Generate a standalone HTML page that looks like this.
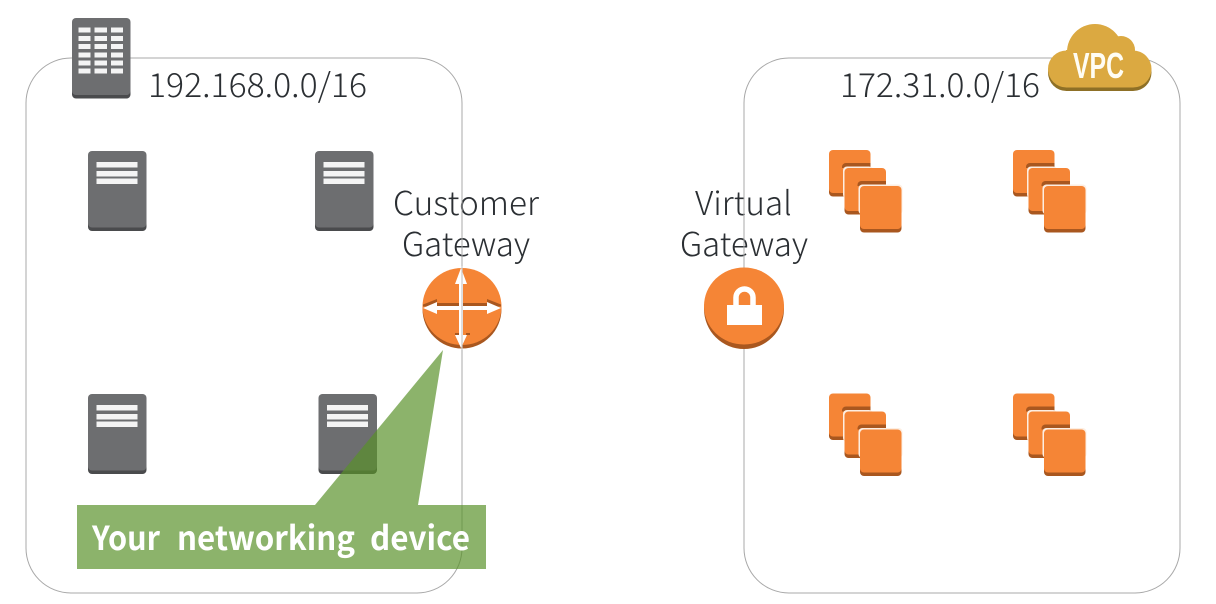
<!DOCTYPE html>
<html><head><meta charset="utf-8"><style>
html,body{margin:0;padding:0;background:#fff;width:1216px;height:604px;overflow:hidden}
svg{display:block}
.t{font-family:"Noto Sans CJK KR","Liberation Sans",sans-serif;font-weight:300;font-size:33px;fill:#2b2f33}
.g{font-family:"Noto Sans CJK KR","Liberation Sans",sans-serif;font-weight:700;font-size:33px;fill:#fff}
</style></head><body>
<svg width="1216" height="604" viewBox="0 0 1216 604" xmlns="http://www.w3.org/2000/svg">
<defs>
<g id="srv">
<rect x="0" y="2" width="58.5" height="78" rx="4" fill="#4a4b4d"/>
<rect x="0" y="0" width="58.5" height="76.500" rx="4" fill="#6d6e70"/>
<rect x="8.500" y="11" width="41" height="5.500" fill="#f4f4f4"/>
<rect x="8.500" y="20" width="41" height="5.500" fill="#f4f4f4"/>
<rect x="8.500" y="27.500" width="41" height="5.500" fill="#f4f4f4"/>
</g>
<g id="box">
<rect x="0" y="3" width="41.500" height="43.500" rx="4" fill="#a9571f"/>
<rect x="0" y="0" width="41.500" height="43" rx="4" fill="#f58536"/>
</g>
<g id="stack">
<use href="#box" x="0" y="0"/>
<path d="M13 18v-1a4 4 0 0 1 4-4h24.500v5z" fill="#a9571f"/>
<rect x="14" y="16.500" width="30" height="32" rx="4" fill="#fdeee2"/>
<use href="#box" x="15.500" y="18"/>
<path d="M28.500 36v-1a4 4 0 0 1 4-4h24.500v5z" fill="#a9571f"/>
<rect x="29.500" y="34.500" width="44" height="30" rx="4" fill="#fdeee2"/>
<use href="#box" x="31" y="36"/>
</g>
<g id="cloud">
<circle cx="1095" cy="52" r="28"/>
<circle cx="1121" cy="50" r="14"/>
<circle cx="1066.500" cy="69" r="18.500"/>
<circle cx="1133" cy="69" r="18.500"/>
<rect x="1066" y="50" width="67" height="37.500"/>
</g>
</defs>

<text class="t" x="148" y="97" textLength="219" lengthAdjust="spacingAndGlyphs">192.168.0.0/16</text>
<text class="t" x="840" y="97" textLength="200" lengthAdjust="spacingAndGlyphs">172.31.0.0/16</text>
<text class="t" x="393" y="215" textLength="146" lengthAdjust="spacingAndGlyphs">Customer</text>
<text class="t" x="402" y="256" textLength="128" lengthAdjust="spacingAndGlyphs">Gateway</text>
<text class="t" x="695" y="215" textLength="97" lengthAdjust="spacingAndGlyphs">Virtual</text>
<text class="t" x="680" y="256" textLength="128" lengthAdjust="spacingAndGlyphs">Gateway</text>

<rect x="26" y="58" width="436" height="535" rx="45" fill="none" stroke="#a8a8a8" stroke-width="1"/>
<rect x="744" y="58" width="436" height="535" rx="45" fill="none" stroke="#a8a8a8" stroke-width="1"/>

<rect x="72" y="20" width="58.500" height="78.500" rx="4" fill="#4a4b4d"/>
<rect x="72" y="18" width="58.500" height="77" rx="4" fill="#6d6e70"/>
<g fill="#f4f4f4">
<rect x="78.500" y="27.500" width="12" height="5"/><rect x="94.500" y="27.500" width="12.500" height="5"/><rect x="111" y="27.500" width="12" height="5"/>
<rect x="78.500" y="36" width="12" height="5"/><rect x="94.500" y="36" width="12.500" height="5"/><rect x="111" y="36" width="12" height="5"/>
<rect x="78.500" y="44" width="12" height="5"/><rect x="94.500" y="44" width="12.500" height="5"/><rect x="111" y="44" width="12" height="5"/>
<rect x="78.500" y="52.500" width="12" height="5"/><rect x="94.500" y="52.500" width="12.500" height="5"/><rect x="111" y="52.500" width="12" height="5"/>
<rect x="78.500" y="60.500" width="12" height="5"/><rect x="94.500" y="60.500" width="12.500" height="5"/><rect x="111" y="60.500" width="12" height="5"/>
<rect x="78.500" y="68.500" width="12" height="5"/><rect x="94.500" y="68.500" width="12.500" height="5"/><rect x="111" y="68.500" width="12" height="5"/>
</g>

<use href="#srv" x="88" y="151"/>
<use href="#srv" x="315" y="151"/>
<use href="#srv" x="88" y="394"/>
<use href="#srv" x="318.500" y="394"/>

<use href="#stack" x="829" y="150"/>
<use href="#stack" x="1013" y="150"/>
<use href="#stack" x="829" y="393.500"/>
<use href="#stack" x="1013" y="393.500"/>

<circle cx="462" cy="309" r="39.500" fill="#a9571f"/>
<ellipse cx="462" cy="306.500" rx="39.500" ry="38.500" fill="#f58536"/>
<path d="M423 304.500l14-5.500v4h50v-4l14 5.500v2h-78z" fill="#a9571f"/>
<path d="M455 333h4v2h-4zM466 333h4v2h-4z" fill="#a9571f"/>
<g fill="#fff">
<path d="M423 308l14-6v4h50v-4l14 6-14 6v-4h-50v4z"/>
<path d="M461 268l6 16h-4v51h4l-6 13-6-13h4v-51h-4z"/>
</g>
<line x1="462" y1="266" x2="462" y2="350" stroke="#c8c8c8" stroke-width="1.200"/>

<circle cx="744" cy="309" r="40" fill="#a9571f"/>
<ellipse cx="744" cy="306" rx="40" ry="38.500" fill="#f58536"/>
<path d="M736 306v-8.500a8.500 8.500 0 0 1 17 0v8.500" fill="none" stroke="#fff" stroke-width="5.500"/>
<rect x="727" y="305" width="35" height="20" fill="#fff"/>

<use href="#cloud" y="3.500" fill="#8e7026"/>
<use href="#cloud" fill="#dba941"/>
<text x="1073" y="78" textLength="51" lengthAdjust="spacingAndGlyphs" font-family="Liberation Sans Narrow,Liberation Sans,sans-serif" font-weight="bold" font-size="36" fill="#fffdf3">VPC</text>

<path d="M77 505H315L443 350L418 505H486V569H77z" fill="#599128" fill-opacity=".69"/>
<text class="g" x="92" y="550" textLength="68" lengthAdjust="spacingAndGlyphs">Your</text>
<text class="g" x="177" y="550" textLength="178" lengthAdjust="spacingAndGlyphs">networking</text>
<text class="g" x="370" y="550" textLength="100" lengthAdjust="spacingAndGlyphs">device</text>
</svg>
</body></html>
